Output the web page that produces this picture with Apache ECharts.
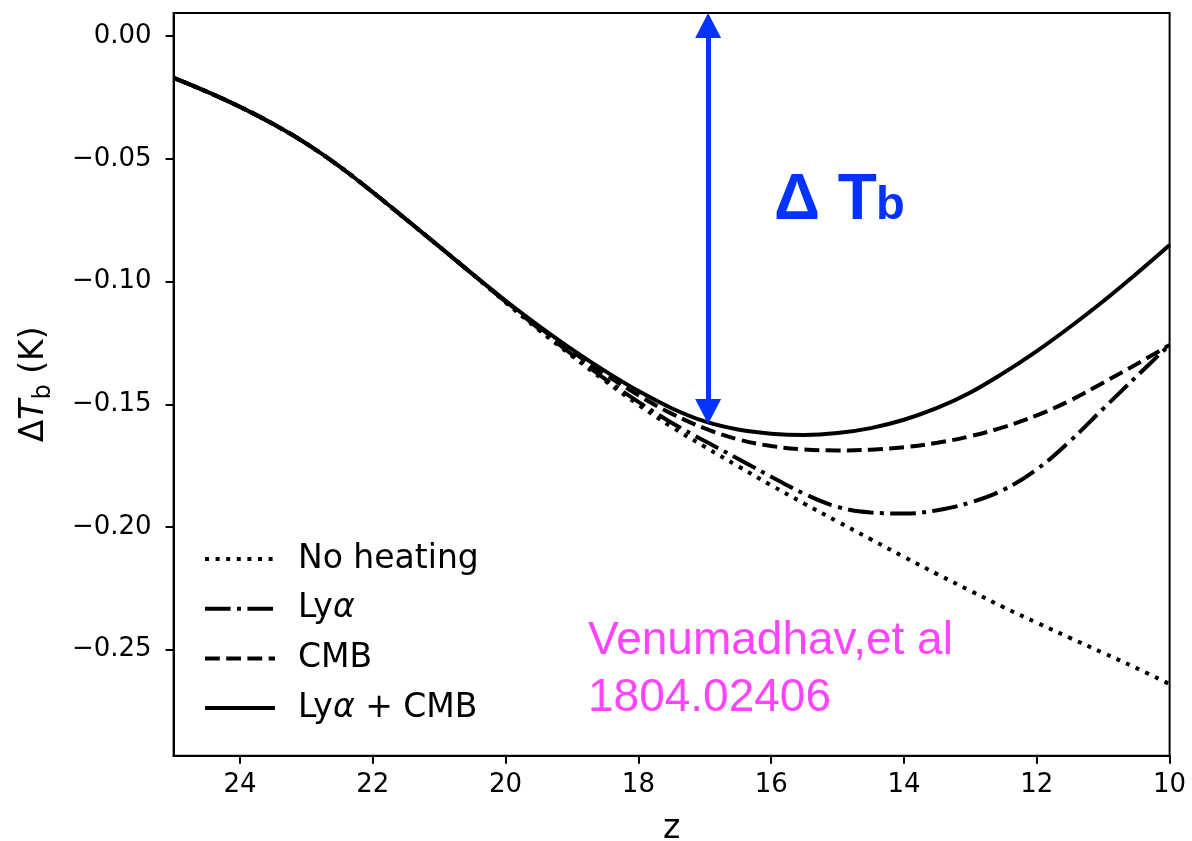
<!DOCTYPE html>
<html>
<head>
<meta charset="utf-8">
<title>Delta Tb vs z</title>
<script src="https://cdn.jsdelivr.net/npm/echarts@6/dist/echarts.min.js"></script>
<style>
  html, body { margin: 0; padding: 0; background: #fff; }
  #chart { width: 1192px; height: 841px; }
</style>
</head>
<body>
<div id="chart"></div>
<script>
// redshift samples, shared by all curves (x axis runs from 25 down to 10)
const zValues = [25, 24.5, 24, 23.5, 23, 22.5, 22, 21.5, 21, 20.5,
  20, 19.5, 19, 18.5, 18, 17.5, 17, 16.5, 16, 15.5,
  15, 14.5, 14, 13.5, 13, 12.5, 12, 11.5, 11, 10.5, 10]

// ΔTb (K)
const noHeating = [-0.0170, -0.0226, -0.0288, -0.0358, -0.0438, -0.0531, -0.0636, -0.0746, -0.0857, -0.0969,
  -0.1085, -0.1197, -0.1303, -0.1405, -0.1502, -0.1592, -0.1673, -0.1752, -0.1830, -0.1905,
  -0.1978, -0.2050, -0.2122, -0.2192, -0.2260, -0.2327, -0.2390, -0.2452, -0.2513, -0.2575, -0.2640]
const lyAlpha = [-0.0170, -0.0226, -0.0288, -0.0358, -0.0438, -0.0531, -0.0636, -0.0746, -0.0857, -0.0969,
  -0.1082, -0.1192, -0.1297, -0.1397, -0.1490, -0.1575, -0.1650, -0.1722, -0.1795, -0.1865,
  -0.1918, -0.1941, -0.1945, -0.1932, -0.1900, -0.1848, -0.1765, -0.1650, -0.1518, -0.1387, -0.1258]
const cmb = [-0.0170, -0.0226, -0.0288, -0.0358, -0.0438, -0.0531, -0.0636, -0.0746, -0.0857, -0.0969,
  -0.1080, -0.1185, -0.1284, -0.1378, -0.1463, -0.1538, -0.1598, -0.1643, -0.1670, -0.1684,
  -0.1688, -0.1685, -0.1675, -0.1657, -0.1630, -0.1593, -0.1545, -0.1485, -0.1412, -0.1337, -0.1258]
const lyAlphaCmb = [-0.0170, -0.0226, -0.0288, -0.0358, -0.0438, -0.0531, -0.0636, -0.0746, -0.0857, -0.0969,
  -0.1078, -0.1180, -0.1276, -0.1365, -0.1446, -0.1516, -0.1570, -0.1603, -0.1620, -0.1625,
  -0.1617, -0.1597, -0.1563, -0.1515, -0.1452, -0.1372, -0.1283, -0.1185, -0.1080, -0.0968, -0.0851]

const seriesNames = ['No heating', 'Lyα', 'CMB', 'Lyα + CMB']
const xTicks = [24, 22, 20, 18, 16, 14, 12, 10]
const yTicks = [0, -0.05, -0.1, -0.15, -0.2, -0.25]

// axis extents and the blue ΔTb arrow (data units, arrowheads are centred on the ends)
const zMin = 10
const zMax = 25
const yMin = -0.2932
const yMax = 0.00945
const arrowZ = 16.95
const arrowFrom = -0.1529
const arrowTo = 0.0044

const lw = 4
const tickFont = 'DejaVu Sans'

const pairs = (vals) => zValues.map((z, i) => [z, vals[i]])

const chart = echarts.init(document.getElementById('chart'))

const lineSeries = (name, vals, type) => ({
  name: name,
  type: 'line',
  data: pairs(vals),
  showSymbol: false,
  symbol: 'none',
  smooth: 0.4,
  lineStyle: { color: '#000', width: lw, type: type, cap: 'butt' },
  itemStyle: { color: '#000' }
})

const arrowed = lineSeries(seriesNames[3], lyAlphaCmb, 'solid')
arrowed.markLine = {
  silent: true,
  symbol: ['triangle', 'triangle'],
  symbolSize: [26, 25],
  label: { show: false },
  lineStyle: { color: '#0433ff', width: 5, type: 'solid' },
  itemStyle: { color: '#0433ff' },
  data: [[{ coord: [arrowZ, arrowFrom] }, { coord: [arrowZ, arrowTo] }]]
}

const option = {
  animation: false,
  backgroundColor: '#fff',
  grid: {
    left: 173.6,
    right: 22.4,
    top: 13,
    bottom: 85.3,
    outerBoundsMode: 'none',
    containLabel: false,
    show: true,
    borderColor: '#000',
    borderWidth: 2
  },
  legend: {
    data: seriesNames,
    orient: 'vertical',
    left: 203,
    top: 539,
    padding: 0,
    itemWidth: 70,
    itemHeight: 14,
    itemGap: 9.7,
    lineStyle: { width: lw },
    itemStyle: { opacity: 0 },
    formatter: (name) => name.replace('α', '{i|α}'),
    textStyle: {
      fontFamily: tickFont,
      fontSize: 33,
      color: '#000',
      lineHeight: 40,
      padding: [0, 0, 0, 18],
      rich: {
        i: { fontFamily: tickFont, fontSize: 33, fontStyle: 'italic', color: '#000' }
      }
    }
  },
  xAxis: {
    type: 'value',
    inverse: true,
    min: zMin,
    max: zMax,
    name: 'z',
    nameLocation: 'middle',
    nameGap: 57,
    nameTextStyle: { fontFamily: tickFont, fontSize: 33, color: '#000' },
    axisLine: { show: true, onZero: false, lineStyle: { color: '#000', width: 2 } },
    axisTick: { show: true, length: 8, lineStyle: { color: '#000', width: 2 }, customValues: xTicks },
    axisLabel: {
      customValues: xTicks,
      fontFamily: tickFont,
      fontSize: 26,
      color: '#000',
      margin: 17,
      formatter: (v) => String(v)
    },
    splitLine: { show: false }
  },
  yAxis: {
    type: 'value',
    min: yMin,
    max: yMax,
    name: '{a|Δ}{t|T}{s|b}{a| (K)}',
    nameLocation: 'middle',
    nameRotate: 90,
    nameGap: 118,
    nameTextStyle: {
      rich: {
        a: { fontFamily: tickFont, fontSize: 33, color: '#000', lineHeight: 43 },
        t: { fontFamily: tickFont, fontSize: 33, fontStyle: 'italic', color: '#000', lineHeight: 43 },
        s: { fontFamily: tickFont, fontSize: 24, color: '#000', lineHeight: 24, verticalAlign: 'bottom' }
      }
    },
    axisLine: { show: true, onZero: false, lineStyle: { color: '#000', width: 2 } },
    axisTick: { show: true, length: 8, lineStyle: { color: '#000', width: 2 }, customValues: yTicks },
    axisLabel: {
      customValues: yTicks,
      fontFamily: tickFont,
      fontSize: 26,
      color: '#000',
      margin: 22,
      formatter: (v) => v.toFixed(2).replace('-', '\u2212')
    },
    splitLine: { show: false }
  },
  series: [
    lineSeries(seriesNames[0], noHeating, [4, 6.6]),
    lineSeries(seriesNames[1], lyAlpha, [25.6, 6.4, 4, 6.4]),
    lineSeries(seriesNames[2], cmb, [14.8, 6.4]),
    arrowed
  ],
  graphic: [
    {
      type: 'text',
      left: 774,
      top: 169,
      style: { text: 'Δ T', font: 'bold 64px "Liberation Sans"', fill: '#0433ff' }
    },
    {
      type: 'text',
      left: 876,
      top: 183,
      style: { text: 'b', font: 'bold 47px "Liberation Sans"', fill: '#0433ff' }
    },
    {
      type: 'text',
      left: 588,
      top: 618,
      style: { text: 'Venumadhav,et al', font: '46px "Liberation Sans"', fill: '#ff44ff' }
    },
    {
      type: 'text',
      left: 588,
      top: 675,
      style: { text: '1804.02406', font: '46px "Liberation Sans"', fill: '#ff44ff' }
    }
  ]
}

chart.setOption(option)
</script>
</body>
</html>
